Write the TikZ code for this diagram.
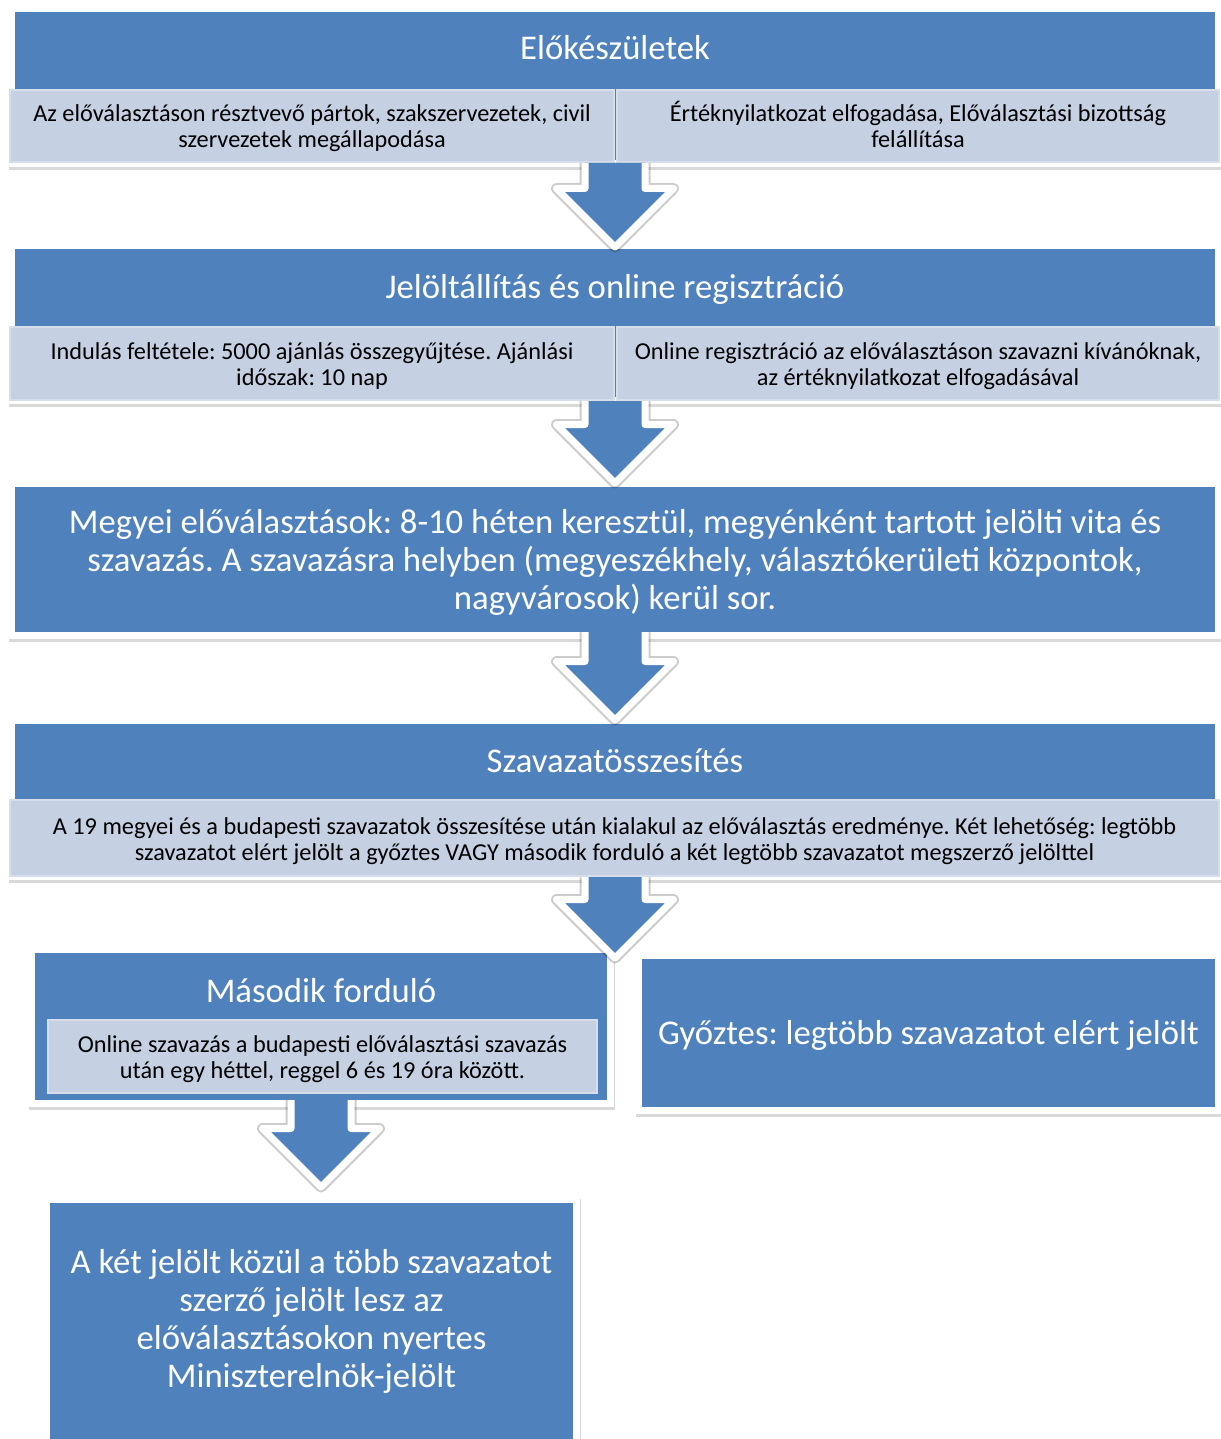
\documentclass[tikz,border=0pt]{standalone}
\usepackage{fontspec}
\setmainfont{Carlito}
\frenchspacing
\usetikzlibrary{shadows,calc}

\definecolor{stepblue}{RGB}{79,129,189}
\definecolor{sublight}{RGB}{197,208,227}
\definecolor{subedge}{RGB}{214,222,235}

\newcommand{\subfont}{\fontsize{24.3}{26}\selectfont}
\newcommand{\bigfont}{\fontsize{34.7}{38}\selectfont}

\tikzset{
  framebox/.style={rectangle, fill=white, draw=none, inner sep=0pt, outer sep=0pt,
    text=white, align=center, font=\bigfont, text height=35pt, text depth=13pt,
    drop shadow={shadow xshift=0.5pt, shadow yshift=-3pt, opacity=0.3},
    path picture={\fill[stepblue] ([shift={(7pt,-7pt)}]path picture bounding box.north west)
      rectangle ([shift={(-7pt,7pt)}]path picture bounding box.south east);}},
  subbox/.style={rectangle, fill=sublight, draw=subedge, line width=2pt, inner sep=0pt,
    align=center, font=\subfont, text=black, text height=51pt, text depth=7pt},
  titletext/.style={text=white, font=\bigfont, inner sep=0pt, align=center,
    text height=35pt, text depth=11pt},
  arrowshade/.style={fill=black, draw=black, opacity=0.2, line width=11pt,
    line join=round, yshift=-2.5pt},
  arrowbody/.style={fill=stepblue, draw=white, line width=7pt, line join=round}
}

% block arrow from #1 (top of shaft) to #2 (tip)
\newcommand{\flowarrow}[2]{%
  \foreach \layer in {arrowshade,arrowbody}{
    \path[\layer] let \p1=(#1), \p2=(#2) in
      (\x1-30pt,\y1) -- (\x1-30pt,\y2+58.5pt) -- (\x1-58.5pt,\y2+58.5pt) -- (\x1,\y2)
      -- (\x1+58.5pt,\y2+58.5pt) -- (\x1+30pt,\y2+58.5pt) -- (\x1+30pt,\y1);
  }
}

\begin{document}
\begin{tikzpicture}[x=1pt, y=-1pt]
  \useasboundingbox (0,0) rectangle (1220,1439);

  % Elokeszuletek
  \node[framebox, minimum width=1214, minimum height=162] (b1) at (615,86) {};
  \node[titletext] (t1) at (615,48) {Előkészületek};
  \node[subbox, minimum width=604, minimum height=72] (b1l) at (312,126)
    {Az előválasztáson résztvevő pártok, szakszervezetek, civil\\ szervezetek megállapodása};
  \node[subbox, minimum width=602, minimum height=72] (b1r) at (918,126)
    {Értéknyilatkozat elfogadása, Előválasztási bizottság\\ felállítása};

  % Jeloltallitas
  \node[framebox, minimum width=1214, minimum height=162] (b2) at (615,323) {};
  \node[titletext] (t2) at (615,286) {Jelöltállítás és online regisztráció};
  \node[subbox, minimum width=604, minimum height=73] (b2l) at (312,363.5)
    {Indulás feltétele: 5000 ajánlás összegyűjtése. Ajánlási\\ időszak: 10 nap};
  \node[subbox, minimum width=602, minimum height=73] (b2r) at (918,363.5)
    {Online regisztráció az előválasztáson szavazni kívánóknak,\\ az értéknyilatkozat elfogadásával};

  % Megyei elovalasztasok
  \node[framebox, text height=110pt, text depth=11pt, minimum width=1214, minimum height=159] (b3) at (615,559.5)
    {Megyei előválasztások: 8-10 héten keresztül, megyénként tartott jelölti vita és\\
     szavazás. A szavazásra helyben (megyeszékhely, választókerületi központok,\\
     nagyvárosok) kerül sor.};

  % Szavazatosszesites
  \node[framebox, minimum width=1214, minimum height=163] (b4) at (615,798.5) {};
  \node[titletext] (t4) at (615,760) {Szavazatösszesítés};
  \node[subbox, minimum width=1209, minimum height=76] (b4s) at (614.5,838)
    {A 19 megyei és a budapesti szavazatok összesítése után kialakul az előválasztás eredménye. Két lehetőség: legtöbb\\
     szavazatot elért jelölt a győztes VAGY második forduló a két legtöbb szavazatot megszerző jelölttel};

  % Masodik fordulo / Gyoztes
  \node[framebox, minimum width=586, minimum height=161] (b5) at (321,1026.5) {};
  \node[titletext] (t5) at (321,990) {Második forduló};
  \node[subbox, minimum width=549, minimum height=73] (b5s) at (322.5,1056.5)
    {Online szavazás a budapesti előválasztási szavazás\\ után egy héttel, reggel 6 és 19 óra között.};
  \node[framebox, minimum width=587, minimum height=162] (b6) at (928.5,1033)
    {Győztes: legtöbb szavazatot elért jelölt};

  % Miniszterelnok-jelolt
  \node[framebox, minimum width=537, minimum height=250] (b7) at (311.5,1321) {};
  \node[titletext, text height=149pt] (t7) at (311.5,1318)
    {A két jelölt közül a több szavazatot\\ szerző jelölt lesz az\\ előválasztásokon nyertes\\ Miniszterelnök-jelölt};

  \coordinate (t4tip) at (615.5,958);

  \flowarrow{b1.center |- b1l.south}{$(b2.north)+(0,5)$}
  \flowarrow{b2.center |- b2l.south}{$(b3.north)+(0,3)$}
  \flowarrow{$(b3.south)+(0,-7)$}{$(b4.north)+(0,3)$}
  \flowarrow{b4.center |- b4s.south}{t4tip}
  \flowarrow{$(b5.south)+(0,-7)$}{$(b5.center |- b7.north)+(0,-9)$}
\end{tikzpicture}
\end{document}
